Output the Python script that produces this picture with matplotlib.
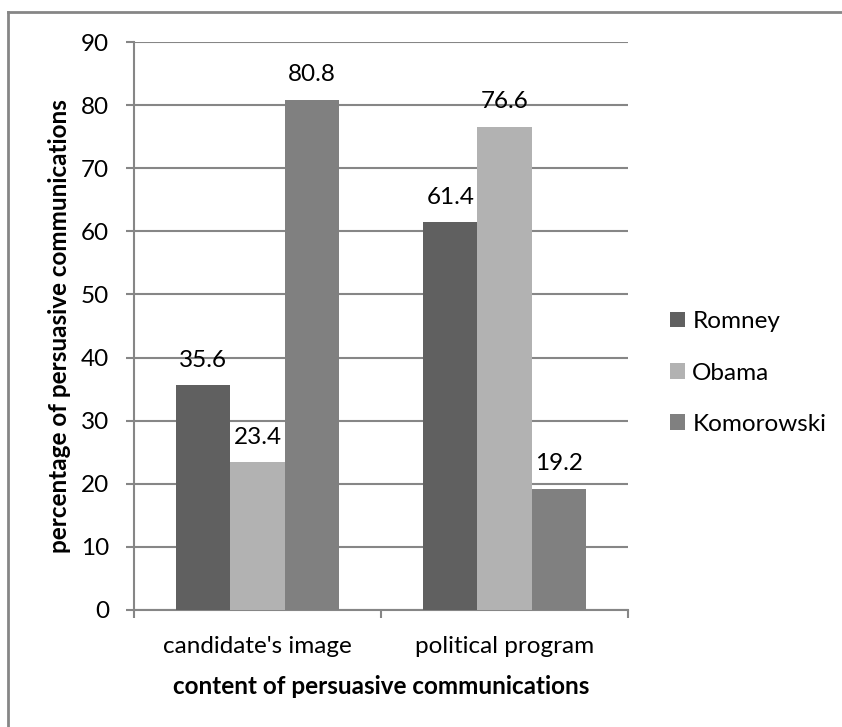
import numpy as np
import matplotlib.pyplot as plt
from matplotlib.lines import Line2D

plt.rcParams['font.family'] = ['Lato', 'DejaVu Sans']

categories = ["candidate's image", "political program"]
series = ["Romney", "Obama", "Komorowski"]
romney = [35.6, 61.4]
obama = [23.4, 76.6]
komorowski = [80.8, 19.2]
colors = ["#606060", "#b2b2b2", "#808080"]
yticks = [0, 10, 20, 30, 40, 50, 60, 70, 80, 90]

grey = "#868686"
fs = 17.5

fig = plt.figure(figsize=(8.42, 7.27), dpi=100)
ax = fig.add_axes([134 / 842, 1 - 610 / 727, (628 - 134) / 842, (610 - 42) / 727])

x = np.arange(len(categories))
w = 0.219
for i, (name, vals) in enumerate(zip(series, [romney, obama, komorowski])):
    bars = ax.bar(x + (i - 1) * w, vals, w, color=colors[i], label=name, zorder=3)
    for b, v in zip(bars, vals):
        ax.annotate(f"{v}", (b.get_x() + b.get_width() / 2, v), xytext=(0, 13.5),
                    textcoords="offset points", ha="center", va="baseline", fontsize=fs)

ax.set_xlim(-0.5, 1.5)
ax.set_ylim(0, 90)
ax.set_yticks(yticks)
ax.set_yticklabels([str(t) for t in yticks], fontsize=fs)
ax.yaxis.grid(True, color=grey, linewidth=1.5, zorder=0)
ax.set_xticks([-0.5, 0.5, 1.5])
ax.set_xticklabels([])
ax.set_xticks(x, minor=True)
ax.set_xticklabels(categories, minor=True, fontsize=fs)
ax.tick_params(axis='x', which='minor', length=0, pad=19)
ax.tick_params(axis='x', which='major', length=6, width=1.5, color=grey, direction='out')
ax.tick_params(axis='y', length=6, width=1.5, color=grey, pad=12)

for s in ['top', 'right']:
    ax.spines[s].set_visible(False)
for s in ['left', 'bottom']:
    ax.spines[s].set_color(grey)
    ax.spines[s].set_linewidth(1.5)

ax.set_xlabel("content of persuasive communications", fontsize=fs, fontweight='bold')
ax.set_ylabel("percentage of persuasive communications", fontsize=fs, fontweight='bold')
ax.xaxis.set_label_coords(0.5, -0.114)
ax.yaxis.set_label_coords(-0.127, 0.5)

ax.legend(loc='center left', bbox_to_anchor=(670 / 842, 1 - 373 / 727), bbox_transform=fig.transFigure,
          frameon=False, fontsize=fs, handlelength=0.62, handleheight=0.62, handletextpad=0.3,
          labelspacing=1.25, borderpad=0, borderaxespad=0)

# outer chart frame (top and left edges)
fig.add_artist(Line2D([8 / 842, 1], [1 - 12 / 727, 1 - 12 / 727], transform=fig.transFigure, color=grey, linewidth=2))
fig.add_artist(Line2D([8 / 842, 8 / 842], [0, 1 - 12 / 727], transform=fig.transFigure, color=grey, linewidth=2))

fig.savefig("out.png", dpi=100)
